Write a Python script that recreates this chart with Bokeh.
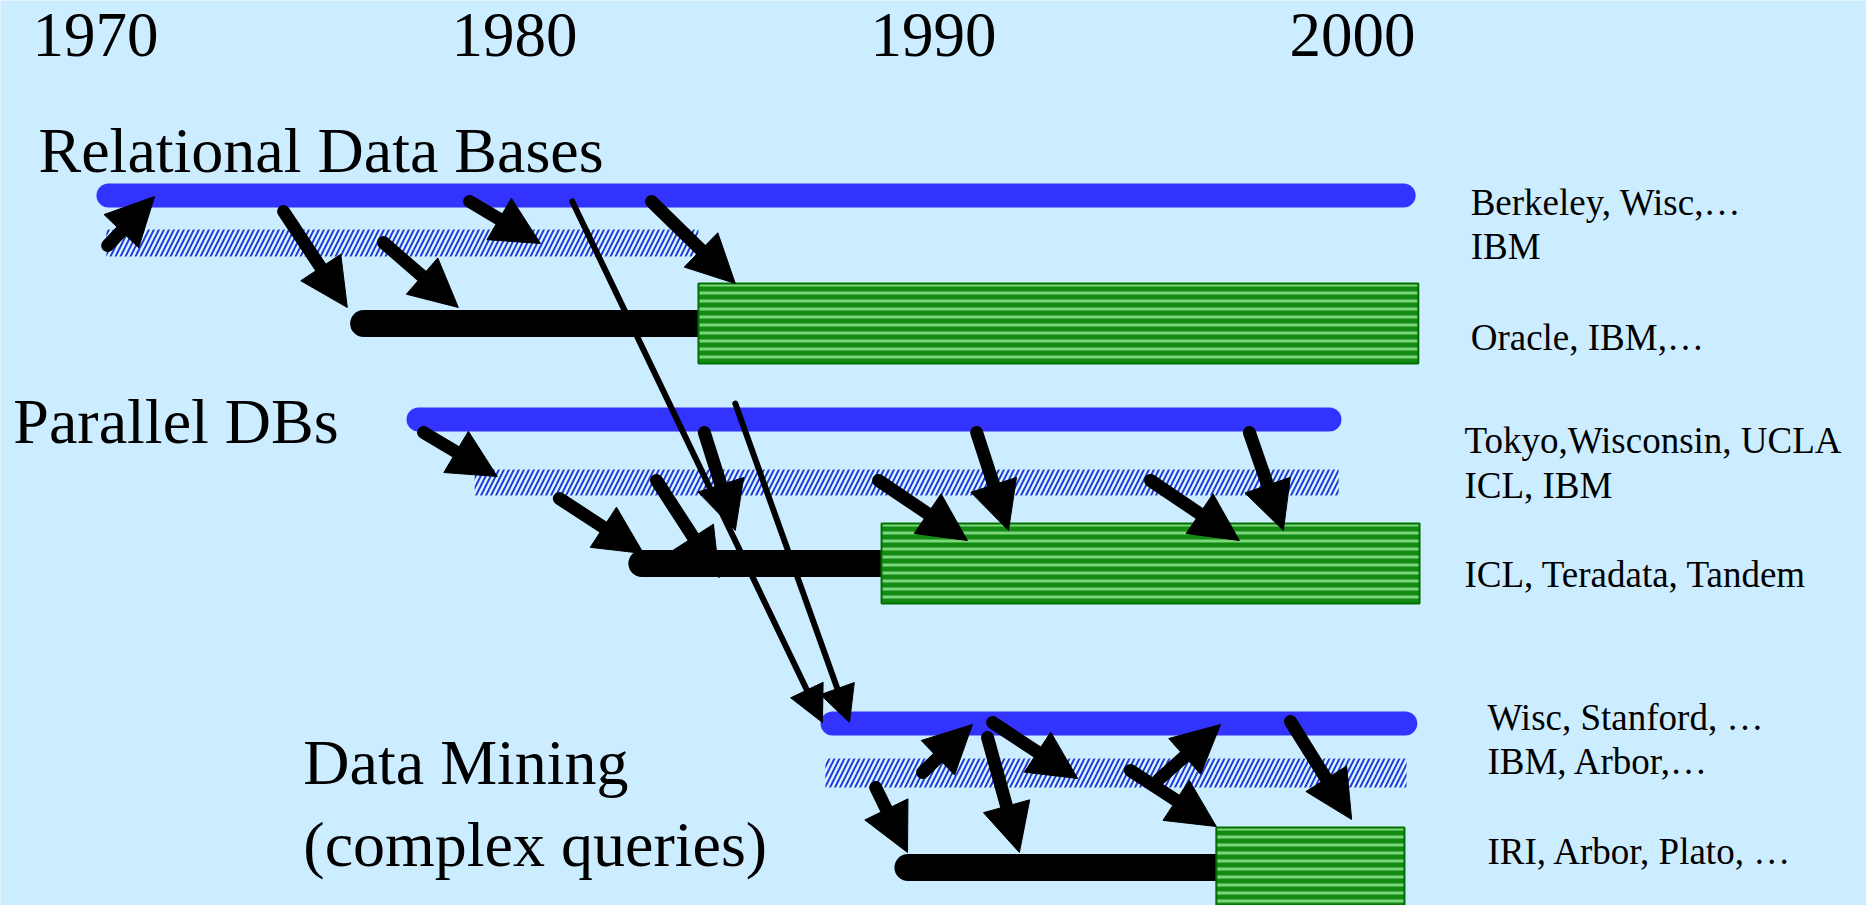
import numpy as np
from bokeh.plotting import figure
from bokeh.models import Range1d, ColumnDataSource, Arrow, NormalHead
from bokeh.core.properties import value
from bokeh.embed import file_html
from bokeh.resources import INLINE

# ---------------- data ----------------
tick_years = [1970, 1980, 1990, 2000]
tick_labels = ["1970", "1980", "1990", "2000"]

groups = ["Relational Data Bases", "Parallel DBs", "Data Mining"]

# research (blue line)
research_start = [1970.31, 1977.71, 1987.59]
research_end = [2001.22, 1999.45, 2001.26]
research_lane = [195, 419, 723]

# industrial prototypes (hatched band)
proto_start = [1970.26, 1979.05, 1987.42]
proto_end = [1984.39, 1999.67, 2001.29]
proto_top = [229, 469, 758]
proto_bottom = [256, 495, 787]

# early products (black line)
early_start = [1976.40, 1983.04, 1989.39]
early_end = [1984.39, 1988.76, 1996.75]
early_lane = [323, 563, 867]

# mature products (green band)
mature_start = [1984.39, 1988.76, 1996.75]
mature_end = [2001.57, 2001.60, 2001.24]
mature_top = [283, 523, 827]
mature_bottom = [363, 603, 905]

# technology-transfer arrows (thick)
arr_x0 = [1970.29, 1974.49, 1976.87, 1978.93, 1983.27,
          1977.83, 1981.07, 1983.39, 1984.53, 1988.69, 1991.03, 1995.18, 1997.54,
          1989.74, 1991.41, 1991.29, 1988.62, 1995.35, 1994.70, 1998.52]
arr_y0 = [245, 211, 242, 201, 201,
          432, 498, 480, 432, 480, 432, 480, 432,
          772, 722, 737, 787, 780, 770, 721]
arr_x1 = [1971.41, 1976.01, 1978.66, 1980.62, 1985.27,
          1979.59, 1983.08, 1984.89, 1985.27, 1990.81, 1991.79, 1997.30, 1998.35,
          1990.93, 1993.44, 1992.05, 1989.38, 1996.85, 1996.75, 1999.98]
arr_y1 = [196, 307, 307, 243, 283,
          476, 553, 577, 530, 540, 530, 540, 530,
          724, 778, 852, 852, 724, 826, 819]

# long thin arrows into data mining
thin_x0 = [1981.38, 1985.27]
thin_y0 = [201, 403]
thin_x1 = [1987.35, 1987.995]
thin_y1 = [722, 722]

# group headings (baselines)
head_text = ["Relational Data Bases", "Parallel DBs", "Data Mining", "(complex queries)"]
head_x = [1968.64, 1968.04, 1974.96, 1974.96]
head_y = [172, 443, 784, 866]

# right-hand labels (baselines)
lab_text = ["Berkeley, Wisc,\u2026", "IBM", "Oracle, IBM,\u2026",
            "Tokyo,Wisconsin, UCLA", "ICL, IBM", "ICL, Teradata, Tandem",
            "Wisc, Stanford, \u2026", "IBM, Arbor,\u2026", "IRI, Arbor, Plato, \u2026"]
lab_x = [2002.82, 2002.82, 2002.82, 2002.67, 2002.67, 2002.67, 2003.22, 2003.22, 2003.22]
lab_y = [215, 259, 350, 453, 498, 587, 730, 774, 864]

year_baseline = 57

# ---------------- figure ----------------
W, H = 1866, 905
X0, X1 = 1967.733, 2012.267
BG = "#CCECFF"
p = figure(width=W, height=H, output_backend="svg", toolbar_location=None,
           x_range=Range1d(X0, X1), y_range=Range1d(H, 0),
           x_axis_location=None, y_axis_location=None, min_border=0)
p.grid.visible = False
p.outline_line_color = None
p.background_fill_color = BG
p.border_fill_color = BG

FONT = value("Liberation Serif")
PX_PER_YEAR = W / (X1 - X0)


def shaft_ends(x0, y0, x1, y1, back):
    """Pull the shaft end back inside the arrow head (pixel space)."""
    x0, y0, x1, y1 = map(np.asarray, (x0, y0, x1, y1))
    dx = (x1 - x0) * PX_PER_YEAR
    dy = (y1 - y0)
    L = np.hypot(dx, dy)
    return x1 - dx / L * back / PX_PER_YEAR, y1 - dy / L * back


# blue research lines
p.segment(x0=research_start, y0=research_lane, x1=research_end, y1=research_lane,
          line_color="#3333FF", line_width=24, line_cap="round")

# hatched prototype bands
p.quad(left=proto_start, right=proto_end, top=proto_top, bottom=proto_bottom,
       fill_color="#CCFFFF", line_color=None,
       hatch_pattern="right_diagonal_line", hatch_color="#3333DD",
       hatch_scale=10, hatch_weight=2)

# black early-product lines
p.segment(x0=early_start, y0=early_lane, x1=early_end, y1=early_lane,
          line_color="black", line_width=27, line_cap="round")

# green mature-product bands
p.quad(left=mature_start, right=mature_end, top=mature_top, bottom=mature_bottom,
       fill_color="#138A13", line_color="#007000", line_width=2,
       hatch_pattern="horizontal_line", hatch_color="#7CD67C",
       hatch_scale=8, hatch_weight=3)

# arrows: shafts as segments, heads as arrow annotations
THICK_HEAD, THIN_HEAD = 48, 36
tx, ty = shaft_ends(arr_x0, arr_y0, arr_x1, arr_y1, THICK_HEAD * 0.7)
p.segment(x0=arr_x0, y0=arr_y0, x1=tx, y1=ty, line_color="black", line_width=13,
          line_cap="round")
nx, ny = shaft_ends(thin_x0, thin_y0, thin_x1, thin_y1, THIN_HEAD * 0.7)
p.segment(x0=thin_x0, y0=thin_y0, x1=nx, y1=ny, line_color="black", line_width=6,
          line_cap="round")

thick_src = ColumnDataSource(dict(x0=arr_x0, y0=arr_y0, x1=arr_x1, y1=arr_y1))
p.add_layout(Arrow(x_start="x0", y_start="y0", x_end="x1", y_end="y1", source=thick_src,
                   line_alpha=0, line_width=1,
                   end=NormalHead(size=THICK_HEAD, fill_color="black", line_color="black",
                                  line_width=1)))
thin_src = ColumnDataSource(dict(x0=thin_x0, y0=thin_y0, x1=thin_x1, y1=thin_y1))
p.add_layout(Arrow(x_start="x0", y_start="y0", x_end="x1", y_end="y1", source=thin_src,
                   line_alpha=0, line_width=1,
                   end=NormalHead(size=THIN_HEAD, fill_color="black", line_color="black",
                                  line_width=1)))

# text placement: renderer puts the baseline ~0.35 em below the anchor
BASE_SHIFT = 0.35


def anchor(baselines, fs):
    return [b - BASE_SHIFT * fs for b in baselines]


p.text(x=tick_years, y=anchor([year_baseline] * len(tick_years), 63), text=tick_labels,
       text_font=FONT, text_font_size="63px", text_align="center",
       text_baseline="alphabetic", text_color="black")

p.text(x=head_x, y=anchor(head_y, 64), text=head_text, text_font=FONT,
       text_font_size="64px", text_align="left", text_baseline="alphabetic",
       text_color="black")

p.text(x=lab_x, y=anchor(lab_y, 37), text=lab_text, text_font=FONT,
       text_font_size="37px", text_align="left", text_baseline="alphabetic",
       text_color="black")

open("out.html", "w").write(file_html(p, INLINE))
